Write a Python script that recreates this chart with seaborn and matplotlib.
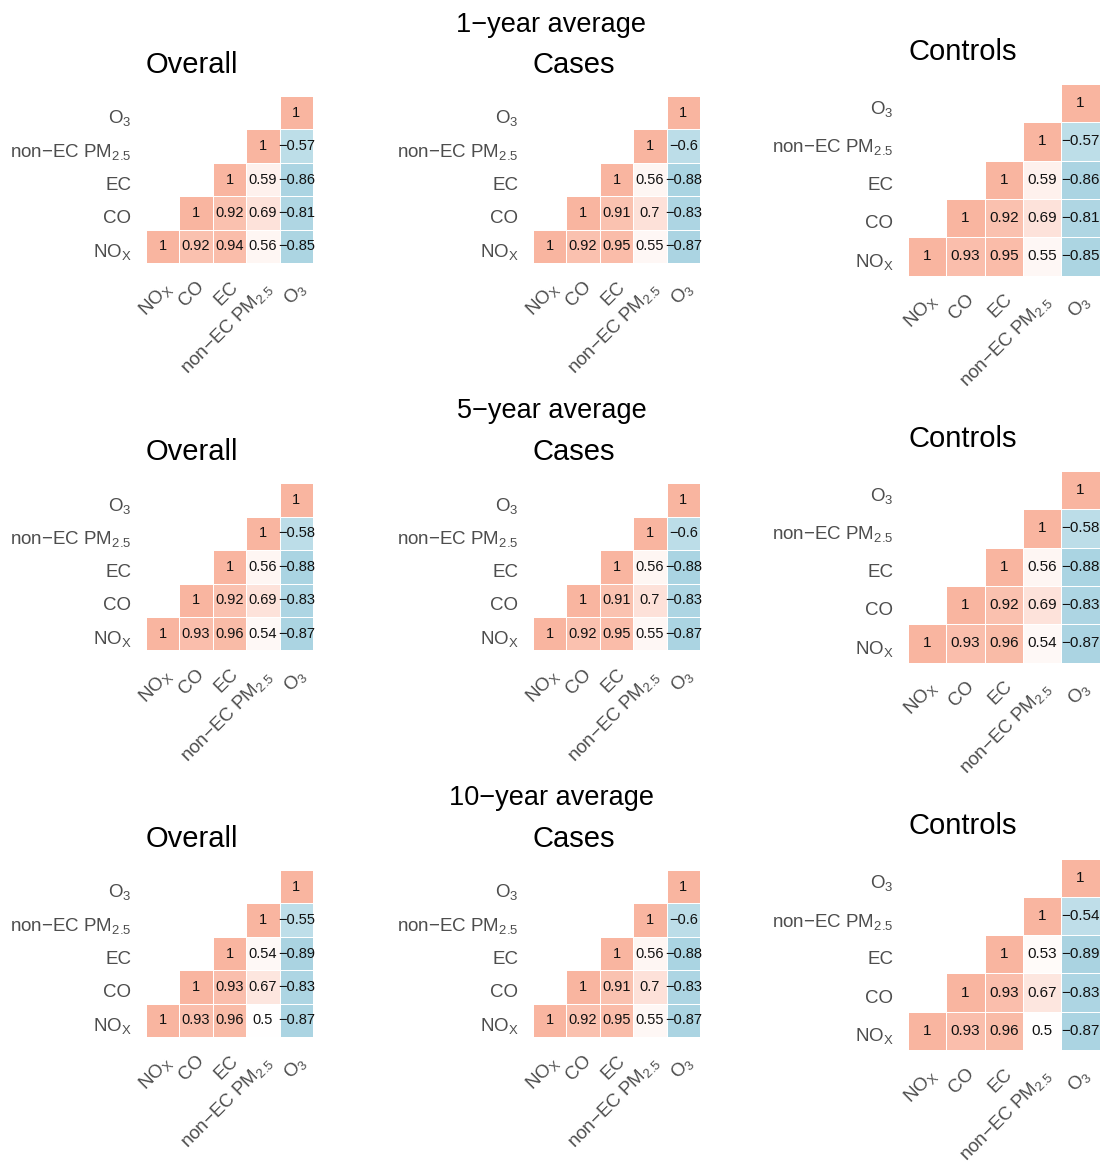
import numpy as np
import pandas as pd
import matplotlib
matplotlib.use('Agg')
import matplotlib.pyplot as plt
from matplotlib.colors import LinearSegmentedColormap
from matplotlib.transforms import ScaledTranslation
import seaborn as sns

# variables, in matrix order
pollutants = ['NOx', 'CO', 'EC', 'nonEC', 'O3']
pollutant_labels = [r'$\mathregular{NO_X}$', 'CO', 'EC',
                    r'non−EC $\mathregular{PM_{2.5}}$', r'$\mathregular{O_3}$']
periods = ['1−year average', '5−year average', '10−year average']
groups = ['Overall', 'Cases', 'Controls']

# pair order: NOx-CO, NOx-EC, NOx-nonEC, NOx-O3, CO-EC, CO-nonEC, CO-O3,
#             EC-nonEC, EC-O3, nonEC-O3
yr1_overall = [0.92, 0.94, 0.56, -0.85, 0.92, 0.69, -0.81, 0.59, -0.86, -0.57]
yr1_cases = [0.92, 0.95, 0.55, -0.87, 0.91, 0.70, -0.83, 0.56, -0.88, -0.60]
yr1_controls = [0.93, 0.95, 0.55, -0.85, 0.92, 0.69, -0.81, 0.59, -0.86, -0.57]
yr5_overall = [0.93, 0.96, 0.54, -0.87, 0.92, 0.69, -0.83, 0.56, -0.88, -0.58]
yr5_cases = [0.92, 0.95, 0.55, -0.87, 0.91, 0.70, -0.83, 0.56, -0.88, -0.60]
yr5_controls = [0.93, 0.96, 0.54, -0.87, 0.92, 0.69, -0.83, 0.56, -0.88, -0.58]
yr10_overall = [0.93, 0.96, 0.50, -0.87, 0.93, 0.67, -0.83, 0.54, -0.89, -0.55]
yr10_cases = [0.92, 0.95, 0.55, -0.87, 0.91, 0.70, -0.83, 0.56, -0.88, -0.60]
yr10_controls = [0.93, 0.96, 0.50, -0.87, 0.93, 0.67, -0.83, 0.53, -0.89, -0.54]

all_pairs = [
    [yr1_overall, yr1_cases, yr1_controls],
    [yr5_overall, yr5_cases, yr5_controls],
    [yr10_overall, yr10_cases, yr10_controls],
]

plt.rcParams['font.family'] = ['Liberation Sans', 'DejaVu Sans']
plt.rcParams['mathtext.fontset'] = 'custom'
plt.rcParams['mathtext.rm'] = 'Liberation Sans'

W, H = 1105, 1163
fig = plt.figure(figsize=(W / 100, H / 100), dpi=100)

cmap = LinearSegmentedColormap.from_list(
    'corr', [(0.0, '#A3D0DF'), (0.75, '#FFFFFF'), (1.0, '#F9B5A0')])

# layout in pixels
left_px = {'Overall': 146, 'Cases': 533, 'Controls': 908}
size_px = {'Overall': 167, 'Cases': 167, 'Controls': 191.5}
top_small = [96, 483.3, 870]
top_ctrl = [84, 471, 858.5]
row_title_base = [31.7, 418.4, 805]


def build_matrix(pairs):
    n = len(pollutants)
    m = np.eye(n)
    k = 0
    for i in range(n):
        for j in range(i + 1, n):
            m[i, j] = pairs[k]
            m[j, i] = pairs[k]
            k += 1
    df = pd.DataFrame(m, index=pollutants, columns=pollutants)
    return df


def fmt(v):
    s = f'{v:g}'
    return s.replace('-', '−')


for r, period in enumerate(periods):
    fig.text(551.5 / W, 1 - row_title_base[r] / H, period, ha='center',
             va='baseline', fontsize=19.5, color='black')
    for c, grp in enumerate(groups):
        df = build_matrix(all_pairs[r][c])
        # rows from top: O3 ... NOx
        df = df.iloc[::-1]
        n = len(pollutants)
        mask = np.zeros((n, n), dtype=bool)
        for i in range(n):
            var_i = n - 1 - i
            for j in range(n):
                if j < var_i:
                    mask[i, j] = True
        labels = np.vectorize(fmt)(df.values)

        top = top_ctrl[r] if grp == 'Controls' else top_small[r]
        sz = size_px[grp]
        ax = fig.add_axes([left_px[grp] / W, 1 - (top + sz) / H, sz / W, sz / H])
        sns.heatmap(df, mask=mask, cmap=cmap, vmin=-1, vmax=1, cbar=False,
                    annot=labels, fmt='', linewidths=0.5, linecolor='white',
                    annot_kws={'fontsize': 11 if grp == 'Controls' else 10.5,
                               'color': '#111111'},
                    ax=ax)
        ax.set_xlabel('')
        ax.set_ylabel('')
        ax.set_xticklabels(pollutant_labels, rotation=45, ha='right',
                           va='top', rotation_mode='anchor',
                           fontsize=13.5, color='#4D4D4D')
        ax.set_yticklabels(pollutant_labels[::-1], rotation=0, va='center',
                           fontsize=13.5, color='#4D4D4D')
        ax.tick_params(axis='both', length=0)
        ax.tick_params(axis='y', pad=10.5)
        ax.tick_params(axis='x', pad=11)
        for sp in ax.spines.values():
            sp.set_visible(False)
        shift = ScaledTranslation(0, -4 / 72, fig.dpi_scale_trans)
        for lab in ax.get_yticklabels():
            lab.set_transform(lab.get_transform() + shift)
        ax.set_title(grp, loc='left', fontsize=21, color='black',
                     pad=16.5 if grp != 'Controls' else 17.5)

fig.savefig('out.png', dpi=100)
